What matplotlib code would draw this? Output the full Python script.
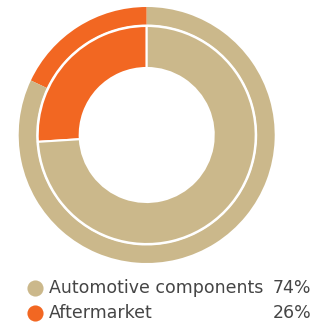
import matplotlib.pyplot as plt

# data
labels = ['Automotive components', 'Aftermarket']
inner_share = [74, 26]
outer_share = [82, 18]
colors = ['#CBB88B', '#F26722']

W, H = 327, 326
fig = plt.figure(figsize=(W / 100, H / 100), dpi=100)
ax = fig.add_axes([0, 0, 1, 1])

cx, cy = 146.7, H - 135

# outer thin ring (orange first, going counter-clockwise from the top)
ax.pie(outer_share[::-1], colors=colors[::-1], radius=128, center=(cx, cy),
       startangle=90, counterclock=True, frame=True,
       wedgeprops=dict(width=17.5, linewidth=0))
# inner ring
ax.pie(inner_share[::-1], colors=colors[::-1], radius=109, center=(cx, cy),
       startangle=90, counterclock=True, frame=True,
       wedgeprops=dict(width=42, edgecolor='white', linewidth=1.5))
ax.set_xlim(0, W)
ax.set_ylim(0, H)
ax.set_aspect('equal')
ax.axis('off')

# legend
rows_y = [H - 288, H - 313]
for i in range(len(labels)):
    ax.scatter(35, rows_y[i], s=135, color=colors[i], zorder=5, linewidths=0)
    ax.text(49, rows_y[i], labels[i], fontsize=12.5, color='#454545',
            ha='left', va='center', family='DejaVu Sans')
    ax.text(311, rows_y[i], f'{inner_share[i]}%', fontsize=12.5, color='#454545',
            ha='right', va='center', family='DejaVu Sans')

fig.savefig('out.png', dpi=100)
